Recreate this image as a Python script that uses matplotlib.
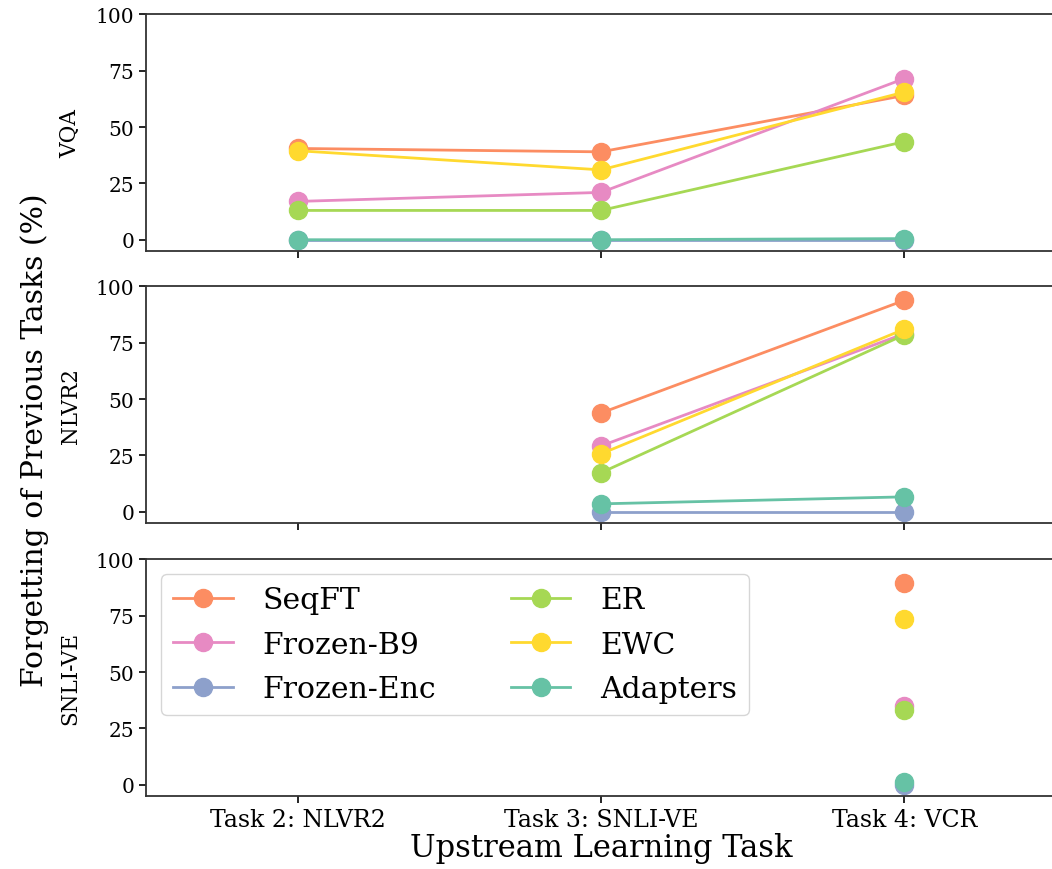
import matplotlib
matplotlib.use('Agg')
import matplotlib.pyplot as plt
import numpy as np

plt.rcParams['font.family'] = ['DejaVu Serif']

tasks = ['Task 2: NLVR2', 'Task 3: SNLI-VE', 'Task 4: VCR']
panels = ['VQA', 'NLVR2', 'SNLI-VE']
methods = ['SeqFT', 'Frozen-B9', 'Frozen-Enc', 'ER', 'EWC', 'Adapters']
colors = ['#fc8d62', '#e78ac3', '#8da0cb', '#a6d854', '#ffd92f', '#66c2a5']

nan = np.nan
# forgetting (%) on each previous task, per method, over upstream tasks
vqa = {
    'SeqFT':      [40.5, 39.0, 64.0],
    'Frozen-B9':  [17.0, 21.0, 71.5],
    'Frozen-Enc': [0.0, 0.0, 0.0],
    'ER':         [13.0, 13.0, 43.5],
    'EWC':        [39.5, 31.0, 65.5],
    'Adapters':   [0.0, 0.0, 0.5],
}
nlvr2 = {
    'SeqFT':      [nan, 43.8, 93.8],
    'Frozen-B9':  [nan, 29.2, 79.0],
    'Frozen-Enc': [nan, 0.0, 0.0],
    'ER':         [nan, 17.3, 78.5],
    'EWC':        [nan, 25.7, 81.0],
    'Adapters':   [nan, 3.5, 6.6],
}
snlive = {
    'SeqFT':      [nan, nan, 89.4],
    'Frozen-B9':  [nan, nan, 34.8],
    'Frozen-Enc': [nan, nan, 0.0],
    'ER':         [nan, nan, 33.0],
    'EWC':        [nan, nan, 73.6],
    'Adapters':   [nan, nan, 1.0],
}
all_data = [vqa, nlvr2, snlive]

fig = plt.figure(figsize=(10.52, 8.7), dpi=100)
left = 146 / 1052
width = (1056 - 146) / 1052
bottoms = [1 - 252 / 870, 1 - 524 / 870, 1 - 797 / 870]
h = 0.272

x = np.arange(len(tasks))
axes = []
for i, (name, data) in enumerate(zip(panels, all_data)):
    ax = fig.add_axes([left, bottoms[i], width, h])
    for m, c in zip(methods, colors):
        ax.plot(x, data[m], '-o', color=c, lw=2, markersize=13, label=m)
    ax.set_ylim(-5, 100)
    ax.set_xlim(-0.5, 2.5)
    ax.set_yticks([0, 25, 50, 75, 100])
    ax.set_xticks(x)
    ax.tick_params(labelsize=14.5, length=5, width=1.2)
    ax.set_ylabel(name, fontsize=15.5, labelpad=10)
    for s in ax.spines.values():
        s.set_color('#333333')
        s.set_linewidth(1.3)
    if i < 2:
        ax.set_xticklabels([])
    else:
        ax.set_xticklabels(tasks, fontsize=17)
        ax.set_xlabel('Upstream Learning Task', fontsize=22, labelpad=1)
    axes.append(ax)

leg = axes[2].legend(loc='upper left', ncol=2, fontsize=21.5, frameon=True,
                     borderaxespad=0.5, handlelength=2.0, columnspacing=2.5,
                     labelspacing=0.55, handletextpad=1.0)
leg.get_frame().set_edgecolor('#cccccc')

fig.text(0.033, 0.494, 'Forgetting of Previous Tasks (%)', rotation=90,
         va='center', ha='center', fontsize=21.5)

fig.savefig('out.png', dpi=100)
